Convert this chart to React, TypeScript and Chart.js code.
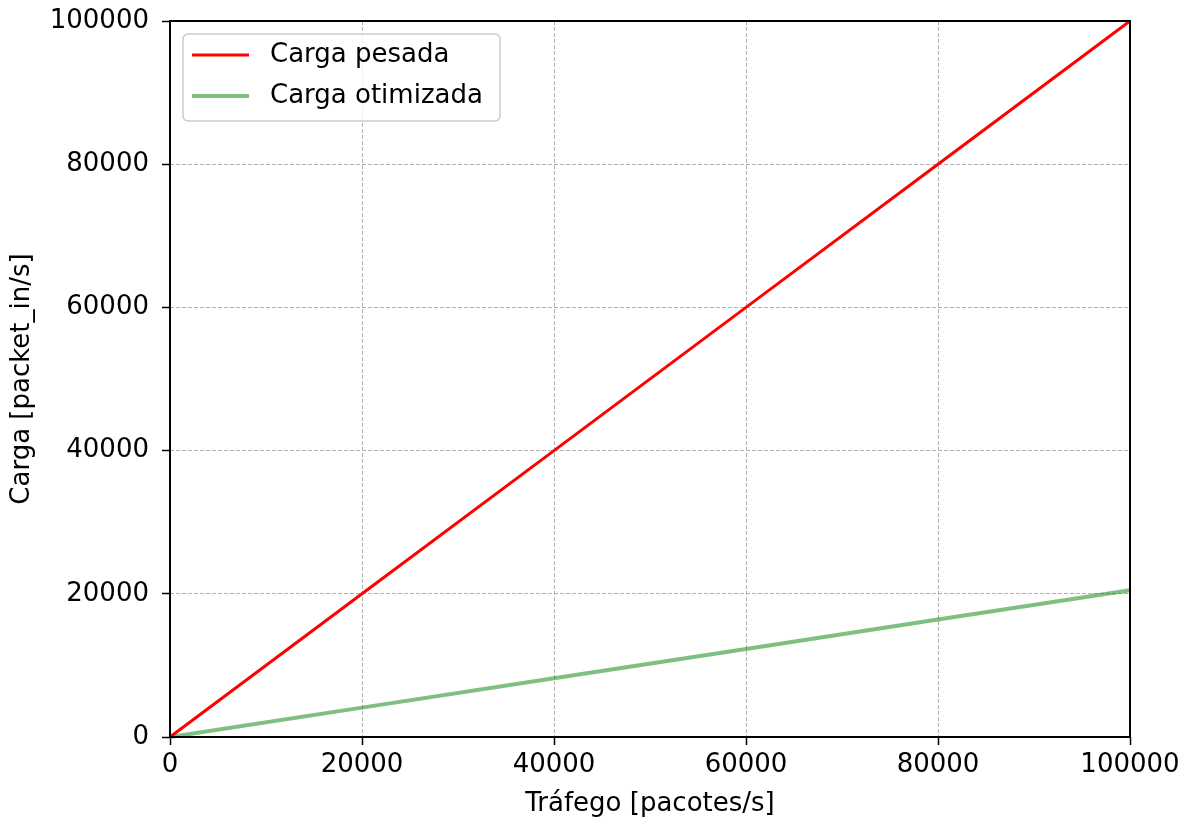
import React, { useEffect, useRef } from "react";
import { Chart, registerables } from "chart.js";

Chart.register(...registerables);

const traffic = [0, 20000, 40000, 60000, 80000, 100000];
const heavyLoad = [0, 20000, 40000, 60000, 80000, 100000];
const optimizedLoad = [0, 4100, 8200, 12300, 16400, 20500];
const seriesNames = ["Carga pesada", "Carga otimizada"];
const xTitle = "Tráfego [pacotes/s]";
const yTitle = "Carga [packet_in/s]";

const FONT = "'DejaVu Sans', sans-serif";
const FS = 26;

const framePlugin = {
  id: "frame",
  afterDraw(chart: any) {
    const { ctx, chartArea: a } = chart;
    ctx.save();
    ctx.strokeStyle = "#000";
    ctx.lineWidth = 2;
    ctx.strokeRect(a.left, a.top, a.right - a.left, a.bottom - a.top);
    // legend
    const bx = 183, by = 34, bw = 317, bh = 87, r = 5;
    ctx.globalAlpha = 0.8;
    ctx.fillStyle = "#fff";
    ctx.beginPath();
    ctx.roundRect(bx, by, bw, bh, r);
    ctx.fill();
    ctx.globalAlpha = 1;
    ctx.strokeStyle = "#cccccc";
    ctx.lineWidth = 1.5;
    ctx.stroke();
    const rows = [55, 96];
    chart.data.datasets.forEach((ds: any, i: number) => {
      const y = rows[i];
      ctx.strokeStyle = ds.borderColor;
      ctx.lineWidth = ds.borderWidth;
      ctx.beginPath();
      ctx.moveTo(192, y);
      ctx.lineTo(249, y);
      ctx.stroke();
      ctx.fillStyle = "#000";
      ctx.font = `${FS}px ${FONT}`;
      ctx.textBaseline = "middle";
      ctx.textAlign = "left";
      ctx.fillText(ds.label, 270, y);
    });
    ctx.restore();
  },
};

export default function App() {
  const ref = useRef<HTMLCanvasElement>(null);
  useEffect(() => {
    const chart = new Chart(ref.current!, {
      type: "line",
      data: {
        datasets: [
          {
            label: seriesNames[0],
            data: traffic.map((x, i) => ({ x, y: heavyLoad[i] })),
            borderColor: "#ff0000",
            borderWidth: 3,
            pointRadius: 0,
            tension: 0,
          },
          {
            label: seriesNames[1],
            data: traffic.map((x, i) => ({ x, y: optimizedLoad[i] })),
            borderColor: "rgba(0,128,0,0.5)",
            borderWidth: 4,
            pointRadius: 0,
            tension: 0,
          },
        ],
      },
      options: {
        responsive: false,
        animation: false,
        clip: false as any,
        layout: { padding: { top: 21, right: 60, left: 0, bottom: 0 } },
        plugins: { legend: { display: false }, tooltip: { enabled: false } },
        scales: {
          x: {
            type: "linear",
            min: 0,
            max: 100000,
            afterFit: (s: any) => {
              s.height = 84;
              s.paddingLeft = 0;
              s.paddingRight = 0;
            },
            ticks: {
              stepSize: 20000,
              color: "#000",
              font: { family: FONT, size: FS },
              padding: 5,
              maxRotation: 0,
              callback: (v: any) => String(v),
            },
            grid: {
              color: "#b0b0b0",
              lineWidth: 1,
              tickColor: "#000",
              tickLength: 8,
              tickWidth: 1.5,
              tickBorderDash: [],
            } as any,
            border: { display: false, dash: [4, 2] } as any,
            title: {
              display: true,
              text: xTitle,
              color: "#000",
              font: { family: FONT, size: FS },
              padding: { top: 0, bottom: 1 },
            },
          },
          y: {
            type: "linear",
            min: 0,
            max: 100000,
            afterFit: (s: any) => {
              s.width = 170;
              s.paddingTop = 0;
              s.paddingBottom = 0;
            },
            ticks: {
              stepSize: 20000,
              color: "#000",
              font: { family: FONT, size: FS },
              padding: 13,
              callback: (v: any) => String(v),
            },
            grid: {
              color: "#b0b0b0",
              lineWidth: 1,
              tickColor: "#000",
              tickLength: 8,
              tickWidth: 1.5,
              tickBorderDash: [],
            } as any,
            border: { display: false, dash: [4, 2] } as any,
            title: {
              display: true,
              text: yTitle,
              color: "#000",
              font: { family: FONT, size: FS },
              padding: { top: 7, bottom: 0 },
            },
          },
        },
      },
      plugins: [framePlugin],
    } as any);
    return () => chart.destroy();
  }, []);
  return (
    <div style={{ position: "absolute", left: 0, top: 0, width: 1190, height: 821, background: "#fff" }}>
      <canvas ref={ref} width={1190} height={821} />
    </div>
  );
}
